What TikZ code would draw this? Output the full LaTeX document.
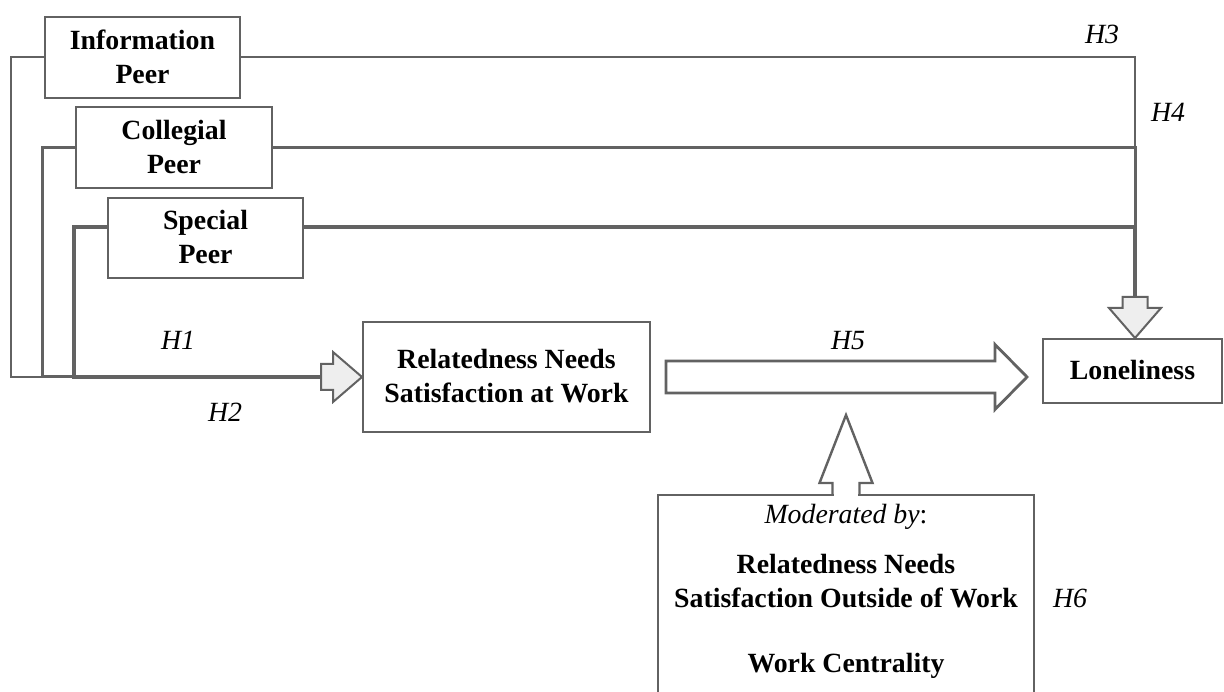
\documentclass[tikz,border=0pt]{standalone}
\usepackage{fontspec}
\setmainfont{Liberation Serif}
\usetikzlibrary{calc}
\definecolor{lc}{HTML}{626262}
\definecolor{af}{HTML}{EEEEEE}
\newcommand\dstrut{\rule[-2pt]{0pt}{2pt}}
\begin{document}
\begin{tikzpicture}[x=1pt,y=-1pt,
  every node/.style={font=\fontsize{27.8}{34}\selectfont, inner sep=0pt},
  box/.style={draw=lc, line width=2pt, fill=white, align=center, font=\fontsize{27.8}{34}\selectfont\bfseries},
  hyp/.style={font=\fontsize{27.8}{34}\selectfont\itshape},
  boldtxt/.style={font=\fontsize{27.8}{34}\selectfont\bfseries},
  lineA/.style={draw=lc, line width=2pt},
  lineB/.style={draw=lc, line width=3pt},
  lineC/.style={draw=lc, line width=4.5pt},
  blockarrow/.style={draw=lc, line width=2pt, fill=af, line join=miter},
  bigarrow/.style={draw=lc, line width=2.8pt, fill=white, line join=miter},
]
\clip (0,0) rectangle (1224,692);
\fill[white] (0,0) rectangle (1224,692);

% boxes
\node[box, minimum width=195pt, minimum height=81pt] (info) at (142.5,57.5) {Information\\Peer\dstrut};
\node[box, minimum width=196pt, minimum height=81pt] (coll) at (174,147.5) {Collegial\\Peer\dstrut};
\node[box, minimum width=195pt, minimum height=80pt] (spec) at (205.5,238) {Special\\Peer\dstrut};
\node[box, minimum width=287pt, minimum height=110pt] (rel) at (506.5,377) {Relatedness Needs\\Satisfaction at Work\dstrut};
\node[box, minimum width=179pt, minimum height=64pt] (lone) at (1132.5,371) {Loneliness\dstrut};
\node[box, minimum width=376pt, minimum height=280pt, anchor=north] (mod) at (846,494) {};

% texts in moderator box
\node[anchor=base] (m1) at (846,523) {\textit{Moderated by}:};
\node[boldtxt, anchor=base] (m2) at (846,573) {Relatedness Needs};
\node[boldtxt, anchor=base] (m3) at (846,607) {Satisfaction Outside of Work};
\node[boldtxt, anchor=base] (m4) at (846,672) {Work Centrality};

% hypothesis labels
\node[hyp] (h1) at (178,340) {H1};
\node[hyp] (h2) at (225,412) {H2};
\node[hyp] (h3) at (1102,34) {H3};
\node[hyp] (h4) at (1168,112) {H4};
\node[hyp] (h5) at (848,341) {H5};
\node[hyp] (h6) at (1070,598) {H6};

% junction coordinates
\coordinate (j) at ($(rel.west)+(-41,0)$);
\coordinate (t) at (1135,297);
\coordinate (dt) at (t |- lone.north);

% left routes to Relatedness at work
\draw[lineA] (info.west) -- ++(-33,0) |- (j);
\draw[lineB] (coll.west) -- ++(-33,0) |- (j);
\draw[lineC] ([yshift=11pt]spec.west) -- ++(-33,0) |- (j);

% right routes to Loneliness
\draw[lineA] (info.east) -| (t);
\draw[lineB] (coll.east) -| (t);
\draw[lineC] ([yshift=11pt]spec.east) -| (t);

% small block arrow into Relatedness box
\draw[blockarrow] ($(j)+(0,-13)$) -- ($(rel.west)+(-29,-13)$) -- ($(rel.west)+(-29,-25)$) -- (rel.west)
  -- ($(rel.west)+(-29,25)$) -- ($(rel.west)+(-29,13)$) -- ($(j)+(0,13)$) -- cycle;

% small block arrow into Loneliness box
\draw[blockarrow] ($(t)+(-12.5,0)$) -- ($(dt)+(-12.5,-30)$) -- ($(dt)+(-26,-30)$) -- (dt)
  -- ($(dt)+(26,-30)$) -- ($(dt)+(12.5,-30)$) -- ($(t)+(12.5,0)$) -- cycle;

% big H5 arrow
\coordinate (bs) at ($(rel.east)+(15,0)$);
\coordinate (bt) at ($(rel.east -| lone.west)+(-15,0)$);
\draw[bigarrow] ($(bs)+(0,-16)$) -- ($(bt)+(-32,-16)$) -- ($(bt)+(-32,-32.5)$) -- (bt)
  -- ($(bt)+(-32,32.5)$) -- ($(bt)+(-32,16)$) -- ($(bs)+(0,16)$) -- cycle;

% moderator up arrow
\coordinate (ut) at ($(mod.north)+(0,-79)$);
\fill[white] ($(mod.north)+(-12.2,-2)$) rectangle ($(mod.north)+(12.2,1.6)$);
\draw[bigarrow, fill=none, line width=2.4pt] ($(mod.north)+(-13.5,0)$) -- ($(ut)+(-13.5,68)$) -- ($(ut)+(-26.5,68)$) -- (ut)
  -- ($(ut)+(26.5,68)$) -- ($(ut)+(13.5,68)$) -- ($(mod.north)+(13.5,0)$);
\end{tikzpicture}
\end{document}
